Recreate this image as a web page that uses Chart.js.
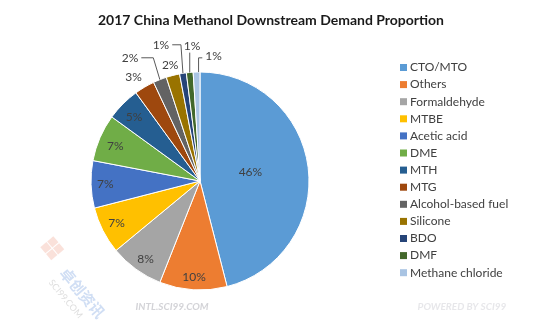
<!DOCTYPE html>
<html>
<head>
<meta charset="utf-8">
<script src="https://cdn.jsdelivr.net/npm/chart.js@4.4.0/dist/chart.umd.min.js"></script>
<style>
  html, body { margin: 0; padding: 0; background: #fff; }
  #wrap { width: 551px; height: 334px; }
</style>
</head>
<body>
<div id="wrap"><canvas id="demandChart" width="551" height="334"></canvas></div>
<script>
const chartTitle = '2017 China Methanol Downstream Demand Proportion';
const categories = ['CTO/MTO', 'Others', 'Formaldehyde', 'MTBE', 'Acetic acid', 'DME', 'MTH',
    'MTG', 'Alcohol-based fuel', 'Silicone', 'BDO', 'DMF', 'Methane chloride'];
const shares = [46, 10, 8, 7, 7, 7, 5, 3, 2, 2, 1, 1, 1];
const sliceColors = ['#5b9bd5', '#ed7d31', '#a5a5a5', '#ffc000', '#4472c4', '#70ad47', '#255e91',
    '#9e480e', '#636363', '#997300', '#264478', '#43682b', '#a9c4e3'];

// where each percentage sits: r = fraction of radius, da = degrees nudged off the slice middle
const labelPlacement = [
    { r: 0.47, da: -3 }, { r: 0.88, da: 0 }, { r: 0.87, da: -1 }, { r: 0.86, da: 0 },
    { r: 0.87, da: 0 }, { r: 0.84, da: -1 }, { r: 0.84, da: -1 },
    { r: 1.13, da: -2 },
    { r: 1.30, da: -8, leader: true },
    { r: 1.10, da: 0 },
    { r: 1.30, da: -7, leader: true },
    { r: 1.235, da: 2, leader: true },
    { r: 1.155, da: 8, leader: true }
];

const FONT = 'Lato, "Open Sans", sans-serif';

const piePainter = {
    id: 'piePainter',
    afterDatasetsDraw(chart) {
        const ctx = chart.ctx;
        const arcs = chart.getDatasetMeta(0).data;
        ctx.save();
        ctx.font = '12px ' + FONT;
        ctx.textAlign = 'center';
        ctx.textBaseline = 'middle';
        arcs.forEach((arc, i) => {
            const { x, y, startAngle, endAngle, outerRadius } =
                arc.getProps(['x', 'y', 'startAngle', 'endAngle', 'outerRadius'], true);
            const place = labelPlacement[i];
            const mid = (startAngle + endAngle) / 2;
            const a = mid + place.da * Math.PI / 180;
            const lx = x + Math.cos(a) * outerRadius * place.r;
            const ly = y + Math.sin(a) * outerRadius * place.r;
            const text = shares[i] + '%';

            if (place.leader) {
                const ex = x + Math.cos(mid) * outerRadius;
                const ey = y + Math.sin(mid) * outerRadius;
                const half = ctx.measureText(text).width / 2;
                ctx.strokeStyle = '#595959';
                ctx.lineWidth = 1;
                ctx.beginPath();
                if (Math.abs(lx - ex) < 6) {
                    ctx.moveTo(ex, ly + 6);
                    ctx.lineTo(ex, ey);
                } else if (lx < ex) {
                    const sx = lx + half + 3;
                    ctx.moveTo(sx, ly);
                    ctx.lineTo(Math.min(sx + 12, ex - 2), ly);
                    ctx.lineTo(ex, ey);
                } else {
                    const sx = lx - half - 3;
                    ctx.moveTo(sx, ly + 2);
                    ctx.lineTo(ex + 2, ly + 2);
                    ctx.lineTo(ex + 2, ey);
                }
                ctx.stroke();
            }
            ctx.fillStyle = '#404040';
            ctx.fillText(text, lx, ly);
        });
        ctx.restore();
    },
    afterDraw(chart) {
        const ctx = chart.ctx;
        ctx.save();
        // title
        ctx.fillStyle = '#1a1a1a';
        ctx.font = 'bold 14px ' + FONT;
        ctx.textAlign = 'center';
        ctx.textBaseline = 'middle';
        ctx.fillText(chartTitle, 271, 20);

        // legend
        ctx.font = '12px ' + FONT;
        ctx.textAlign = 'left';
        categories.forEach((name, i) => {
            const cy = 67.5 + i * 17.1;
            ctx.fillStyle = sliceColors[i];
            ctx.fillRect(400, cy - 3.5, 7, 7);
            ctx.fillStyle = '#404040';
            ctx.fillText(name, 410, cy);
        });

        // watermarks
        ctx.font = 'italic bold 10px ' + FONT;
        ctx.textAlign = 'center';
        ctx.fillStyle = 'rgba(200, 200, 205, 0.8)';
        ctx.fillText('INTL.SCI99.COM', 172, 307);
        ctx.fillStyle = 'rgba(215, 215, 220, 0.6)';
        ctx.fillText('POWERED BY SCI99', 462, 307);

        ctx.translate(74, 292);
        ctx.rotate(50 * Math.PI / 180);
        // small logo squares ahead of the diagonal name
        ctx.fillStyle = 'rgba(240, 170, 150, 0.35)';
        [[-56, -20], [-47, -20], [-56, -11], [-47, -11]].forEach(([sx, sy]) => {
            ctx.fillRect(sx, sy, 8, 8);
        });
        ctx.fillStyle = 'rgba(170, 195, 235, 0.55)';
        ctx.font = 'bold 15px "Noto Sans CJK SC", sans-serif';
        ctx.fillText('卓创资讯', 6, -6);
        ctx.fillStyle = 'rgba(190, 190, 190, 0.5)';
        ctx.font = '9px ' + FONT;
        ctx.fillText('SCI99.COM', 0, 11);
        ctx.restore();
    }
};

new Chart(document.getElementById('demandChart'), {
    type: 'pie',
    data: {
        labels: categories,
        datasets: [{
            data: shares,
            backgroundColor: sliceColors,
            borderColor: '#ffffff',
            borderWidth: 1
        }]
    },
    options: {
        responsive: false,
        animation: false,
        layout: { padding: { left: 90.5, top: 71.5, right: 241.5, bottom: 43.5 } },
        plugins: {
            legend: { display: false },
            title: { display: false },
            tooltip: { enabled: false }
        }
    },
    plugins: [piePainter]
});
</script>
</body>
</html>
